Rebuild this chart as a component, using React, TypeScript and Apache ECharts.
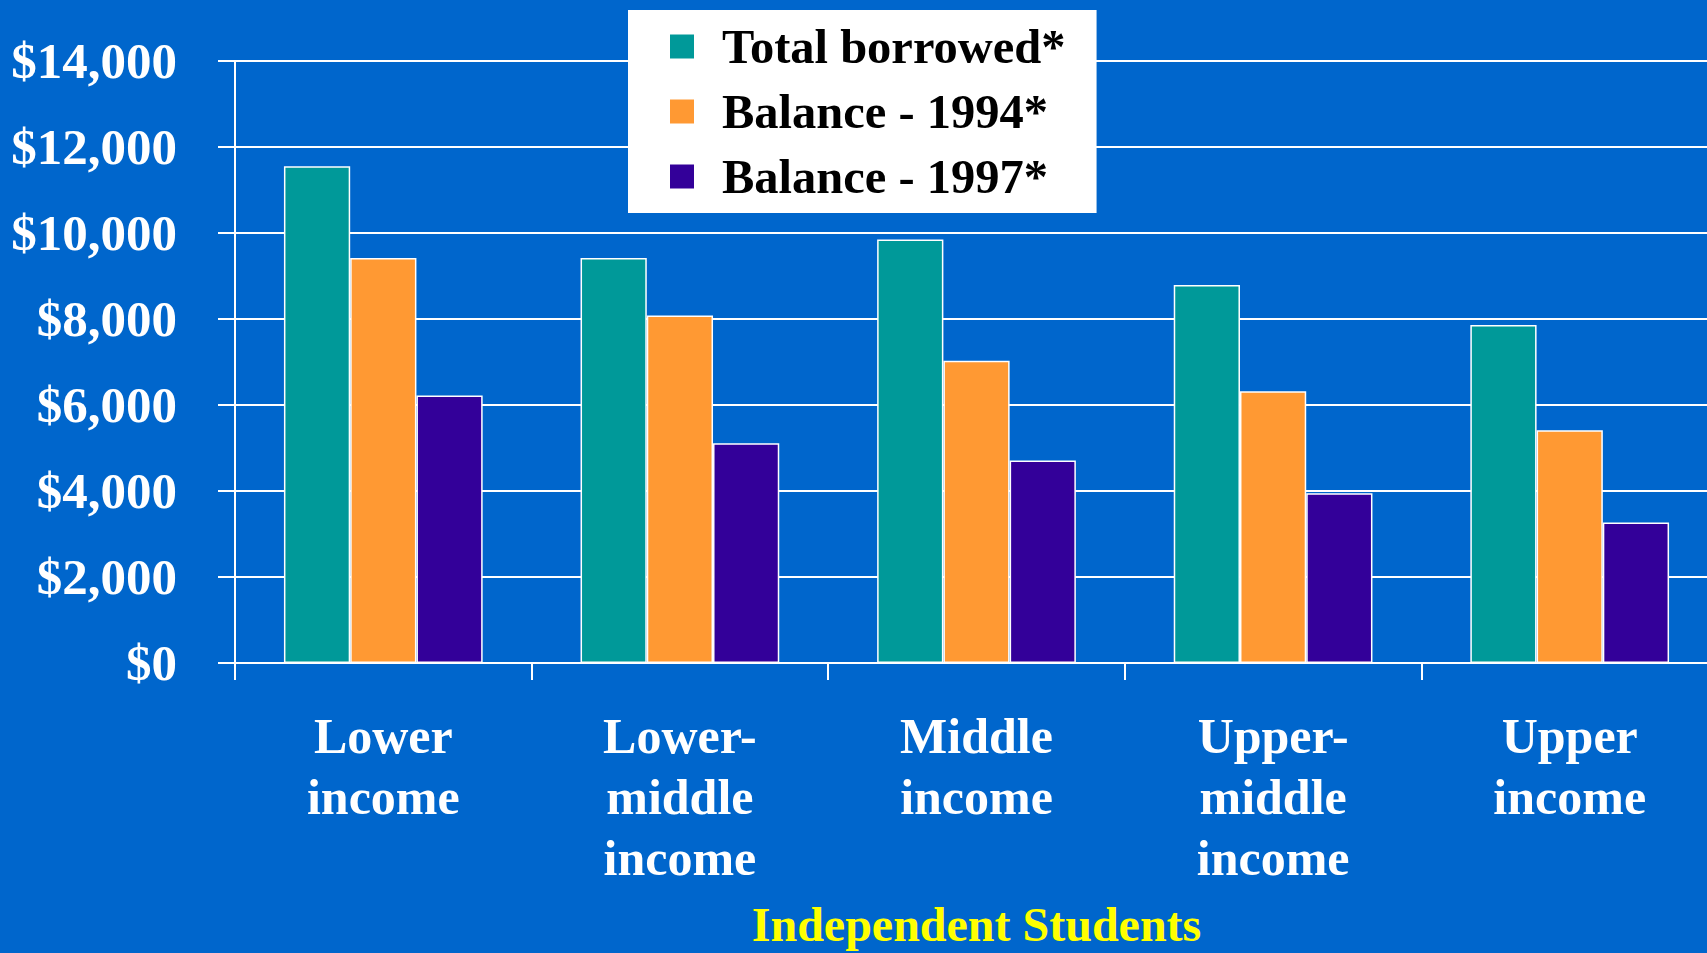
import React, { useEffect, useRef } from "react";
import * as echarts from "echarts";

const categories = ["Lower\nincome", "Lower-\nmiddle\nincome", "Middle\nincome", "Upper-\nmiddle\nincome", "Upper\nincome"];
const totalBorrowed = [11550, 9420, 9850, 8790, 7860];
const balance1994 = [9420, 8080, 7030, 6320, 5410];
const balance1997 = [6220, 5110, 4710, 3950, 3270];
const seriesNames = ["Total borrowed*", "Balance - 1994*", "Balance - 1997*"];
const seriesColors = ["#009999", "#FF9933", "#330099"];
const xTitle = "Independent Students";

const FONT = '"Times New Roman", "Liberation Serif", serif';

export default function App() {
  const ref = useRef<HTMLDivElement>(null);
  useEffect(() => {
    if (!ref.current) return;
    const chart = echarts.init(ref.current, undefined, { renderer: "svg" });
    const data = [totalBorrowed, balance1994, balance1997];
    chart.setOption({
      animation: false,
      backgroundColor: "#0066CC",
      grid: { left: 235, top: 61, bottom: 285, right: 0, containLabel: false },
      legend: {
        orient: "vertical",
        left: 628,
        top: 10,
        backgroundColor: "#ffffff",
        padding: [12, 31, 12, 42],
        itemWidth: 24,
        itemHeight: 24,
        itemGap: 16,
        icon: "rect",
        itemStyle: { borderWidth: 0 },
        textStyle: {
          fontSize: 48.5,
          fontWeight: "bold",
          color: "#000000",
          fontFamily: FONT,
          lineHeight: 48,
          padding: [0, 0, 0, 23],
        },
        data: seriesNames,
      },
      xAxis: {
        type: "category",
        data: categories,
        name: xTitle,
        nameLocation: "middle",
        nameGap: 237,
        nameTextStyle: { color: "#FFFF00", fontSize: 48, fontWeight: "bold", fontFamily: FONT, lineHeight: 48 },
        axisLine: { show: true, lineStyle: { color: "#ffffff", width: 2 } },
        axisTick: { show: true, length: 17, lineStyle: { color: "#ffffff", width: 2 } },
        axisLabel: {
          color: "#ffffff",
          fontSize: 50,
          fontWeight: "bold",
          fontFamily: FONT,
          lineHeight: 61,
          margin: 42,
          interval: 0,
        },
      },
      yAxis: {
        type: "value",
        min: 0,
        max: 14000,
        interval: 2000,
        axisLine: { show: true, lineStyle: { color: "#ffffff", width: 2 } },
        axisTick: { show: true, length: 17, lineStyle: { color: "#ffffff", width: 2 } },
        splitLine: { show: true, lineStyle: { color: "#ffffff", width: 2 } },
        axisLabel: {
          color: "#ffffff",
          fontSize: 51,
          fontWeight: "bold",
          fontFamily: FONT,
          margin: 58,
          formatter: (v: number) => "$" + v.toLocaleString("en-US"),
        },
      },
      series: seriesNames.map((name, i) => ({
        name,
        type: "bar",
        data: data[i],
        barGap: "0%",
        barCategoryGap: "33%",
        itemStyle: { color: seriesColors[i], borderColor: "#ffffff", borderWidth: 1.5 },
      })),
    });
    return () => chart.dispose();
  }, []);
  return (
    <div style={{ position: "fixed", left: 0, top: 0, width: 1707, height: 953, overflow: "hidden", background: "#0066CC" }}>
      <div ref={ref} style={{ width: 1718, height: 953 }} />
    </div>
  );
}
